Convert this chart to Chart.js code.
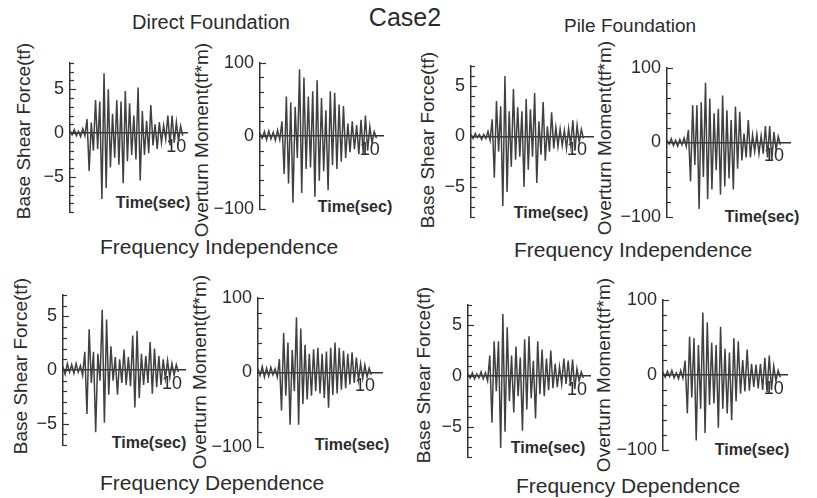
<!DOCTYPE html>
<html>
<head>
<meta charset="utf-8">
<script src="https://cdn.jsdelivr.net/npm/chart.js@4.4.1/dist/chart.umd.min.js"></script>
<style>
body { margin: 0; background: #fff; }
#page { position: relative; width: 817px; height: 498px; overflow: hidden; font-family: "Liberation Sans", Arial, sans-serif; color: #2b2b2b; }
#page canvas { position: absolute; }
.txt { position: absolute; white-space: nowrap; transform: translate(-50%, -50%); }
.ylab { position: absolute; white-space: nowrap; font-size: 19px; transform: translate(-50%, -50%) rotate(-90deg); }
.tsec { position: absolute; white-space: nowrap; font-size: 16px; font-weight: bold; transform: translate(-50%, -50%); }
</style>
</head>
<body>
<div id="page">
  <div class="txt" style="left:211px;top:22px;font-size:20px">Direct Foundation</div>
  <div class="txt" style="left:405px;top:17px;font-size:25px">Case2</div>
  <div class="txt" style="left:630px;top:26px;font-size:19px">Pile Foundation</div>
  <div class="txt" style="left:219px;top:247px;font-size:21px">Frequency Independence</div>
  <div class="txt" style="left:633px;top:250px;font-size:21px">Frequency Independence</div>
  <div class="txt" style="left:212px;top:483px;font-size:21px">Frequency Dependence</div>
  <div class="txt" style="left:628px;top:486px;font-size:21px">Frequency Dependence</div>

  <div class="ylab" style="left:24px;top:131px">Base Shear Force(tf)</div>
  <div class="ylab" style="left:202px;top:140px">Overturn Moment(tf*m)</div>
  <div class="ylab" style="left:428px;top:140px">Base Shear Force(tf)</div>
  <div class="ylab" style="left:605px;top:138px">Overturn Moment(tf*m)</div>
  <div class="ylab" style="left:21px;top:366px">Base Shear Force(tf)</div>
  <div class="ylab" style="left:200px;top:372px">Overturn Moment(tf*m)</div>
  <div class="ylab" style="left:424px;top:375px">Base Shear Force(tf)</div>
  <div class="ylab" style="left:604px;top:375px">Overturn Moment(tf*m)</div>

  <div class="tsec" style="left:153px;top:203px">Time(sec)</div>
  <div class="tsec" style="left:355px;top:207px">Time(sec)</div>
  <div class="tsec" style="left:551px;top:213px">Time(sec)</div>
  <div class="tsec" style="left:762px;top:217px">Time(sec)</div>
  <div class="tsec" style="left:149px;top:443px">Time(sec)</div>
  <div class="tsec" style="left:352px;top:445px">Time(sec)</div>
  <div class="tsec" style="left:548px;top:448px">Time(sec)</div>
  <div class="tsec" style="left:752px;top:450px">Time(sec)</div>
</div>
<script>
// time samples (sec), shared by every panel
const time = [0, 0.2, 0.4, 0.6, 0.8, 1.0, 1.2, 1.4, 1.6, 1.8,
  2.0, 2.2, 2.4, 2.6, 2.8, 3.0, 3.2, 3.4, 3.6, 3.8,
  4.0, 4.2, 4.4, 4.6, 4.8, 5.0, 5.2, 5.4, 5.6, 5.8,
  6.0, 6.2, 6.4, 6.6, 6.8, 7.0, 7.2, 7.4, 7.6, 7.8,
  8.0, 8.2, 8.4, 8.6, 8.8, 9.0, 9.2, 9.4, 9.6, 9.8,
  10.0, 10.2, 10.4, 10.6];

// tick labels
const timeTicks = [10];
const shearTicks = [-5, 0, 5];
const momentTicks = [-100, 0, 100];

// Direct foundation, frequency independence
const shearDirectIndep = [0.3, -0.2, 0.4, -0.3, 0.2, -0.4, 0.5, -0.3, 1.6, -4.3,
  1.2, -2.0, 3.75, -1.8, 3.6, -7.5, 6.8, -6.25, 5.0, -3.9,
  2.2, -2.8, 3.75, -3.6, 3.6, -5.7, 4.8, -3.2, 3.4, -2.5,
  2.0, -3.0, 5.2, -5.4, 2.5, -2.5, 1.4, -2.3, 3.2, -1.4,
  1.0, -1.8, 1.25, -1.1, 0.9, -0.7, 2.0, -1.4, 2.0, -1.1,
  1.25, -0.9, 0.8, -0.3];
const momentDirectIndep = [4, -3, 6, -5, 7, -4, 5, -6, 8, -5,
  20, -52, 54, -65, 46, -91, 40, -30, 91, -78,
  80, -45, 54, -43, 61, -83, 76, -61, 52, -48,
  35, -74, 61, -40, 59, -45, 43, -35, 41, -30,
  17, -22, 20, -18, 15, -25, 22, -24, 28, -20,
  13, -10, 6, -3];

// Pile foundation, frequency independence
const shearPileIndep = [0.2, -0.2, 0.3, -0.1, 0.2, -0.3, 0.2, -0.2, 0.5, -0.4,
  1.7, -4.1, 3.5, -1.5, 3.0, -6.9, 6.0, -5.5, 2.5, -3.0,
  4.7, -2.3, 2.9, -2.0, 2.5, -5.0, 3.7, -3.3, 2.7, -2.0,
  4.3, -4.6, 1.5, -1.8, 3.4, -2.4, 1.0, -1.5, 2.4, -1.2,
  0.9, -1.0, 0.75, -0.9, 0.6, -1.2, 0.8, -0.9, 1.6, -1.4,
  1.1, -0.6, 0.7, -0.2];
const momentPileIndep = [3, -2, 5, -4, 3, -5, 4, -3, 6, -5,
  17, -52, 50, -30, 50, -89, 54, -46, 80, -76,
  59, -63, 39, -37, 45, -70, 63, -59, 43, -48,
  30, -63, 48, -35, 41, -24, 12, -20, 30, -20,
  10, -12, 11, -15, 9, -15, 22, -20, 22, -24,
  14, -10, 8, -3];

// Direct foundation, frequency dependence
const shearDirectDep = [0.3, -0.4, 0.6, -0.2, 0.5, -0.3, 0.6, -0.2, 0.4, -0.5,
  1.7, -4.1, 3.8, -1.2, 1.7, -5.8, 1.5, -1.0, 5.6, -4.9,
  4.7, -2.3, 2.2, -1.0, 1.2, -2.3, 1.0, -1.2, 1.9, -1.4,
  1.2, -1.5, 3.2, -3.5, 3.65, -2.6, 1.5, -1.4, 1.3, -1.2,
  2.6, -2.2, 2.0, -1.6, 1.3, -1.4, 1.0, -0.8, 0.9, -0.7,
  0.6, -0.5, 0.5, -0.2];
const momentDirectDep = [5, -4, 8, -6, 6, -5, 7, -3, 5, -6,
  18, -51, 53, -31, 40, -70, 30, -25, 74, -70,
  59, -42, 37, -36, 25, -31, 31, -25, 33, -28,
  25, -34, 28, -47, 33, -30, 40, -28, 33, -23,
  29, -21, 25, -16, 27, -14, 20, -10, 12, -8,
  10, -6, 6, -3];

// Pile foundation, frequency dependence
const shearPileDep = [0.2, -0.2, 0.3, -0.3, 0.2, -0.2, 0.4, -0.3, 0.3, -0.5,
  2.0, -4.6, 3.4, -1.5, 3.4, -7.1, 6.1, -5.5, 4.8, -2.5,
  2.0, -3.6, 2.9, -2.0, 1.8, -5.4, 3.6, -3.3, 3.9, -2.2,
  1.5, -4.2, 3.4, -1.8, 2.6, -2.0, 1.7, -1.4, 2.5, -1.2,
  1.2, -1.1, 0.9, -0.8, 1.7, -0.8, 1.5, -1.0, 1.6, -1.3,
  0.7, -0.5, 0.4, -0.2];
const momentPileDep = [4, -3, 5, -2, 6, -4, 3, -5, 6, -4,
  19, -51, 51, -30, 49, -87, 40, -45, 83, -77,
  70, -40, 43, -38, 40, -70, 64, -45, 35, -51,
  30, -60, 49, -35, 45, -25, 20, -22, 34, -21,
  15, -16, 14, -18, 15, -20, 23, -23, 26, -20,
  12, -8, 6, -3];

// layout of the 8 little plots (pixel positions of axes)
const panels = [
  { values: shearDirectIndep,  labels: shearTicks,  axisX: 70,  top: 60,  bottom: 215, xEnd: 187, yMin: -9,   yMax: 8,   minor: 1,  xMax: 11.0 },
  { values: momentDirectIndep, labels: momentTicks, axisX: 260, top: 60,  bottom: 212, xEnd: 383, yMin: -100, yMax: 100, minor: 20, xMax: 11.2 },
  { values: shearPileIndep,    labels: shearTicks,  axisX: 471, top: 63,  bottom: 220, xEnd: 593, yMin: -8,   yMax: 7,   minor: 1,  xMax: 11.5 },
  { values: momentPileIndep,   labels: momentTicks, axisX: 667, top: 65,  bottom: 220, xEnd: 790, yMin: -100, yMax: 100, minor: 20, xMax: 11.5 },
  { values: shearDirectDep,    labels: shearTicks,  axisX: 63,  top: 292, bottom: 448, xEnd: 185, yMin: -7,   yMax: 7,   minor: 1,  xMax: 11.2 },
  { values: momentDirectDep,   labels: momentTicks, axisX: 258, top: 295, bottom: 450, xEnd: 382, yMin: -100, yMax: 100, minor: 20, xMax: 11.6 },
  { values: shearPileDep,      labels: shearTicks,  axisX: 468, top: 302, bottom: 460, xEnd: 590, yMin: -8,   yMax: 7,   minor: 1,  xMax: 11.2 },
  { values: momentPileDep,     labels: momentTicks, axisX: 663, top: 297, bottom: 453, xEnd: 787, yMin: -100, yMax: 100, minor: 20, xMax: 11.2 }
];

const FONT = '"Liberation Sans", Arial, sans-serif';
const INK = '#2b2b2b';
const LEFT = 60;   // width kept for y tick labels
const PAD = 14;    // space above/below the plot inside each canvas
const RIGHT = 6;

// the scan has its tick marks pointing into the plot
const inwardTicks = {
  id: 'inwardTicks',
  afterDraw(chart, args, opts) {
    const ys = chart.scales.y;
    const ctx = chart.ctx;
    const x0 = chart.chartArea.left;
    ctx.save();
    ctx.strokeStyle = '#333';
    ctx.lineWidth = 1.2;
    ys.ticks.forEach(t => {
      const py = Math.round(ys.getPixelForValue(t.value)) + 0.5;
      const len = opts.labels.includes(t.value) ? 6 : 4;
      ctx.beginPath();
      ctx.moveTo(x0, py);
      ctx.lineTo(x0 + len, py);
      ctx.stroke();
    });
    ctx.restore();
  }
};

function fmt(v) {
  return v < 0 ? '\u2212' + (-v) : String(v);
}

const page = document.getElementById('page');

panels.forEach(p => {
  const canvas = document.createElement('canvas');
  canvas.width = LEFT + (p.xEnd - p.axisX) + RIGHT;
  canvas.height = (p.bottom - p.top) + 2 * PAD;
  canvas.style.left = (p.axisX - LEFT) + 'px';
  canvas.style.top = (p.top - PAD) + 'px';
  page.appendChild(canvas);

  new Chart(canvas, {
    type: 'line',
    data: {
      datasets: [{
        data: time.map((t, i) => ({ x: t, y: p.values[i] })),
        borderColor: '#404040',
        borderWidth: 1.5,
        pointRadius: 0,
        tension: 0,
        fill: false
      }]
    },
    options: {
      responsive: false,
      animation: false,
      events: [],
      layout: { padding: { top: PAD, bottom: PAD, left: 0, right: RIGHT } },
      plugins: {
        legend: { display: false },
        tooltip: { enabled: false },
        inwardTicks: { labels: p.labels }
      },
      scales: {
        x: {
          type: 'linear',
          min: 0,
          max: p.xMax,
          position: { y: 0 },
          grid: { display: false, drawTicks: false },
          border: { display: true, color: '#333', width: 1.5 },
          afterBuildTicks: s => { s.ticks = timeTicks.map(v => ({ value: v })); },
          ticks: {
            autoSkip: false,
            maxRotation: 0,
            padding: 3,
            color: INK,
            font: { family: FONT, size: 18 },
            callback: v => String(v)
          }
        },
        y: {
          type: 'linear',
          min: p.yMin,
          max: p.yMax,
          grid: { display: false, drawTicks: false },
          border: { display: true, color: '#333', width: 1.5 },
          afterFit: s => { s.width = LEFT; },
          afterBuildTicks: s => {
            const list = [];
            for (let v = p.yMin; v <= p.yMax; v += p.minor) list.push({ value: v });
            s.ticks = list;
          },
          ticks: {
            autoSkip: false,
            padding: 6,
            color: INK,
            font: { family: FONT, size: 18 },
            callback: v => p.labels.includes(v) ? fmt(v) : ''
          }
        }
      }
    },
    plugins: [inwardTicks]
  });
});
</script>
</body>
</html>
